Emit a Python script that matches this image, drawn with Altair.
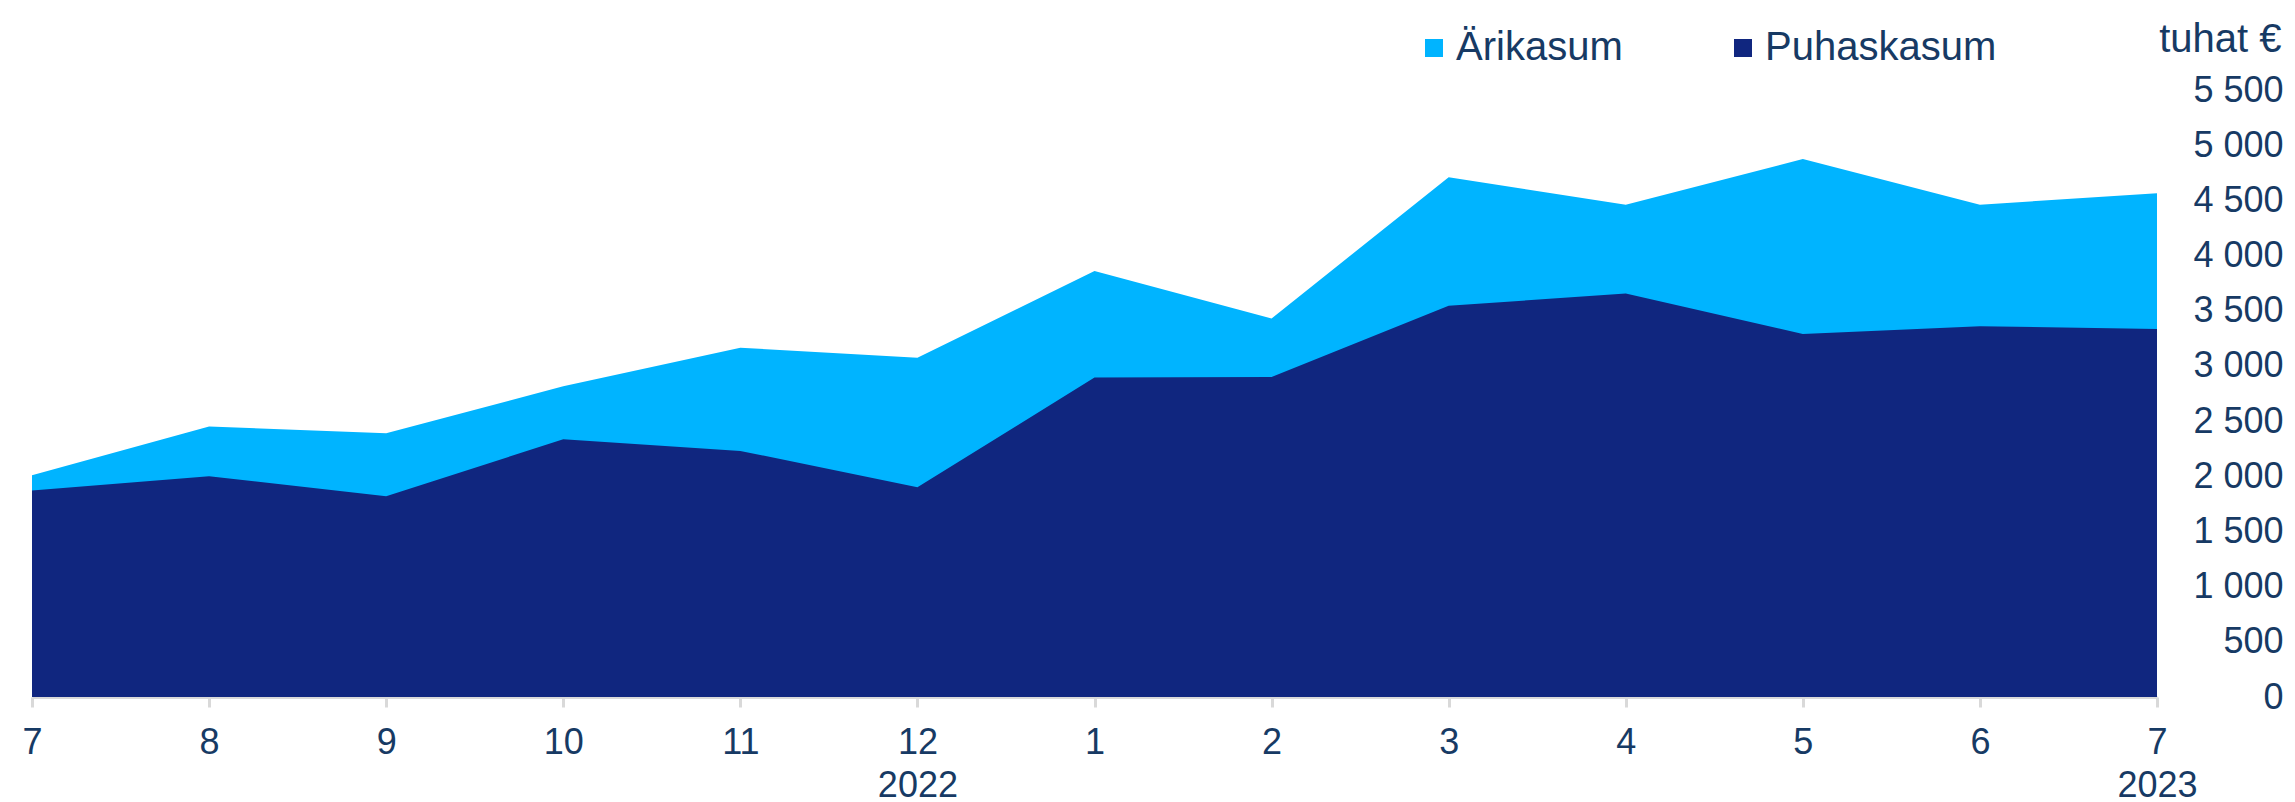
import altair as alt
import pandas as pd

# ---- data ----
periods = ["7", "8", "9", "10", "11", "12|2022", "1", "2", "3", "4", "5", "6", "7|2023"]
arikasum = [2010, 2450, 2390, 2815, 3165, 3075, 3860, 3430, 4710, 4460, 4875, 4460, 4565]
puhaskasum = [1870, 2000, 1820, 2335, 2230, 1900, 2895, 2900, 3545, 3655, 3290, 3360, 3335]
series = ["Ärikasum", "Puhaskasum"]
colors = ["#00B4FF", "#10267F"]
y_ticks = list(range(0, 5501, 500))
y_unit = "tuhat €"

rows = []
for i, p in enumerate(periods):
    rows.append({"period": p, "series": series[0], "value": arikasum[i], "order": i})
    rows.append({"period": p, "series": series[1], "value": puhaskasum[i], "order": i})
df = pd.DataFrame(rows)

FONT = "Liberation Sans"
TXT = "#173A64"
GRAY = "#D9D9D9"
W, H = 2125, 607

x_enc = alt.X(
    "period:O",
    sort=periods,
    scale=alt.Scale(type="point", padding=0),
    axis=alt.Axis(
        title=None,
        labelAngle=0,
        labelExpr="split(datum.label, '|')",
        labelFontSize=36,
        labelColor=TXT,
        labelFont=FONT,
        labelBaseline="top",
        labelPadding=18,
        labelLineHeight=43,
        domainColor=GRAY,
        domainWidth=3,
        tickColor=GRAY,
        tickWidth=3,
        tickSize=10,
        grid=False,
    ),
)

y_enc = alt.Y(
    "value:Q",
    scale=alt.Scale(domain=[0, 5500], nice=False),
    axis=alt.Axis(
        orient="right",
        values=y_ticks,
        labelExpr="replace(format(datum.value, ','), ',', ' ')",
        labelFontSize=36,
        labelColor=TXT,
        labelFont=FONT,
        labelAlign="right",
        labelBaseline="middle",
        labelPadding=126,
        ticks=False,
        tickSize=0,
        domain=False,
        grid=False,
        title=y_unit,
        titleAngle=0,
        titleX=124,
        titleY=-51,
        titleAlign="right",
        titleBaseline="middle",
        titleFontSize=40,
        titleFontWeight="normal",
        titleColor=TXT,
        titleFont=FONT,
    ),
)

color_enc = alt.Color(
    "series:N",
    scale=alt.Scale(domain=series, range=colors),
    legend=alt.Legend(
        title=None,
        orient="none",
        legendX=1382,
        legendY=-62,
        direction="horizontal",
        symbolType="square",
        symbolSize=324,
        symbolStrokeWidth=0,
        symbolOpacity=1,
        labelFontSize=40,
        labelColor=TXT,
        labelFont=FONT,
        labelOffset=2,
        labelLimit=0,
        columnPadding=100,
    ),
)

base = alt.Chart(df).encode(x=x_enc, y=y_enc, color=color_enc)

layer_ari = base.transform_filter(alt.datum.series == series[0]).mark_area(opacity=1, interpolate="linear")
layer_puh = base.transform_filter(alt.datum.series == series[1]).mark_area(opacity=1, interpolate="linear")

chart = (
    alt.layer(layer_ari, layer_puh)
    .properties(
        width=W,
        height=H,
        autosize=alt.AutoSizeParams(type="none"),
        padding={"left": 32, "top": 90, "right": 2295 - 32 - W, "bottom": 802 - 90 - H},
        background="white",
    )
    .configure_view(stroke=None)
)

chart.save("out.html", embed_options={"renderer": "svg", "actions": False})
